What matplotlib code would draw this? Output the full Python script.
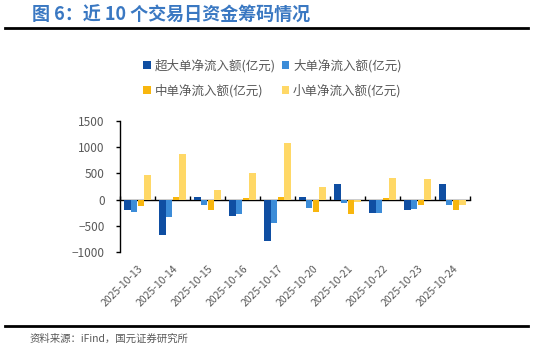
import matplotlib
matplotlib.use("Agg")
import matplotlib.pyplot as plt
import numpy as np
from matplotlib.lines import Line2D

plt.rcParams['font.family'] = ['Noto Sans CJK SC', 'DejaVu Sans']

dates = ["2025-10-13", "2025-10-14", "2025-10-15", "2025-10-16", "2025-10-17",
         "2025-10-20", "2025-10-21", "2025-10-22", "2025-10-23", "2025-10-24"]
super_large = [-198, -676, 57, -313, -785, 57, 294, -255, -204, 294]
large = [-230, -338, -102, -281, -440, -153, -64, -255, -179, -96]
medium = [-128, 57, -204, 32, 57, -230, -281, 32, -96, -204]
small = [479, 874, 185, 504, 1085, 236, -38, 421, 396, -96]

names = ["超大单净流入额(亿元)", "大单净流入额(亿元)", "中单净流入额(亿元)", "小单净流入额(亿元)"]
colors = ["#0F4EA2", "#3C8CD8", "#F8B60E", "#FFD866"]

fig = plt.figure(figsize=(5.33, 3.63), dpi=100)
ax = fig.add_axes([120/533, 1-252/363, 350/533, 131/363])

x = np.arange(len(dates))
w = 0.175
series = [super_large, large, medium, small]
handles = []
for i, (vals, c, n) in enumerate(zip(series, colors, names)):
    b = ax.bar(x + (i - 1.5) * 0.19, vals, width=w, color=c, label=n, zorder=3)
    handles.append(b)

ax.set_xlim(-0.5, len(dates) - 0.5)
ax.set_ylim(-1000, 1500)
ax.set_yticks([-1000, -500, 0, 500, 1000, 1500])
ax.tick_params(axis='y', labelcolor='#595959', labelsize=8.5, length=3, width=1, pad=8, color='black')
for s in ['top', 'right', 'bottom']:
    ax.spines[s].set_visible(False)
ax.spines['left'].set_color('black')
ax.spines['left'].set_linewidth(1)

ax.set_xticks(x)
ax.set_xticklabels(dates, rotation=45, ha='right', rotation_mode='anchor', color='#595959', fontsize=7.5)
ax.tick_params(axis='x', length=0, pad=8)

# zero axis with boundary ticks
zero_frac = (0 - (-1000)) / 2500
sec = ax.secondary_xaxis(zero_frac)
sec.set_xticks(np.arange(-0.5, len(dates) + 0.5, 1.0))
sec.tick_params(axis='x', direction='in', length=3, width=1, labelbottom=False, labeltop=False, color='black')
sec.spines['bottom'].set_color('black')
sec.spines['bottom'].set_linewidth(1)
sec.xaxis.set_ticklabels([])

order = [0, 2, 1, 3]
fig.legend(handles=[handles[i] for i in order], labels=[names[i] for i in order], ncol=2,
           loc='upper left', bbox_to_anchor=(137/533, 1-53/363), frameon=False, fontsize=9,
           handlelength=0.6, handleheight=0.6, handletextpad=0.3, columnspacing=0.5,
           labelspacing=0.9, labelcolor='#595959', borderpad=0)

fig.text(32/533, 1-15/363, "图 6：近 10 个交易日资金筹码情况", color='#3A78C2',
         fontsize=13, fontweight='bold', va='center', ha='left')
fig.add_artist(Line2D([5/533, 528/533], [1-28/363, 1-28/363], color='black', lw=2))
fig.add_artist(Line2D([5/533, 528/533], [1-326/363, 1-326/363], color='black', lw=2))
fig.text(30/533, 1-339/363, "资料来源：iFind，国元证券研究所", color='#595959',
         fontsize=7.5, va='center', ha='left')

fig.savefig("out.png", dpi=100)
